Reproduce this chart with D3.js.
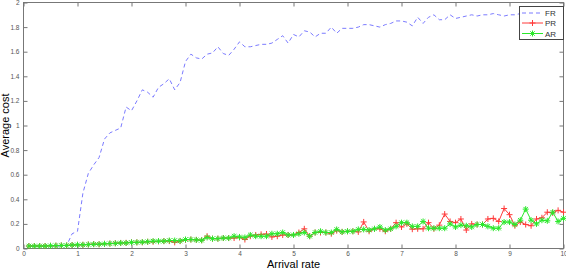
<!DOCTYPE html>
<html>
<head>
<meta charset="utf-8">
<script src="https://cdn.jsdelivr.net/npm/d3@7"></script>
<style>
  body { margin: 0; background: #fff; }
  svg { display: block; font-family: "Liberation Sans", Arial, sans-serif; }
</style>
</head>
<body>
<script>
// arrival rate (x) and the three cost series
const rates = [0.1,0.2,0.3,0.4,0.5,0.6,0.7,0.8,0.9,1.0,
  1.1,1.2,1.3,1.4,1.5,1.6,1.7,1.8,1.9,2.0,
  2.1,2.2,2.3,2.4,2.5,2.6,2.7,2.8,2.9,3.0,
  3.1,3.2,3.3,3.4,3.5,3.6,3.7,3.8,3.9,4.0,
  4.1,4.2,4.3,4.4,4.5,4.6,4.7,4.8,4.9,5.0,
  5.1,5.2,5.3,5.4,5.5,5.6,5.7,5.8,5.9,6.0,
  6.1,6.2,6.3,6.4,6.5,6.6,6.7,6.8,6.9,7.0,
  7.1,7.2,7.3,7.4,7.5,7.6,7.7,7.8,7.9,8.0,
  8.1,8.2,8.3,8.4,8.5,8.6,8.7,8.8,8.9,9.0,
  9.1,9.2,9.3,9.4,9.5,9.6,9.7,9.8,9.9,10.0];

const fr = [0.02,0.02,0.02,0.02,0.02,0.02,0.02,0.025,0.12,0.14,
  0.45,0.61,0.68,0.74,0.89,0.94,0.96,0.98,1.15,1.12,
  1.2,1.29,1.27,1.23,1.31,1.34,1.38,1.29,1.35,1.52,
  1.58,1.55,1.54,1.58,1.59,1.64,1.585,1.57,1.62,1.68,
  1.64,1.64,1.65,1.66,1.66,1.67,1.70,1.73,1.67,1.74,
  1.72,1.77,1.76,1.72,1.75,1.75,1.80,1.75,1.79,1.79,
  1.79,1.80,1.82,1.82,1.81,1.80,1.82,1.83,1.85,1.85,
  1.84,1.81,1.88,1.83,1.88,1.90,1.86,1.86,1.90,1.87,
  1.88,1.89,1.90,1.89,1.90,1.90,1.91,1.90,1.89,1.90,
  1.90,1.91,1.92,1.92,1.93,1.92,1.93,1.93,1.94,1.93];

const pr = [0.02,0.02,0.02,0.02,0.022,0.023,0.025,0.025,0.028,0.03,
  0.03,0.033,0.036,0.034,0.038,0.04,0.043,0.045,0.046,0.05,
  0.05,0.05,0.055,0.055,0.058,0.06,0.06,0.05,0.06,0.07,
  0.073,0.07,0.067,0.1,0.08,0.08,0.085,0.085,0.085,0.09,
  0.073,0.1,0.11,0.115,0.118,0.094,0.1,0.11,0.11,0.11,
  0.13,0.16,0.1,0.13,0.13,0.13,0.12,0.145,0.135,0.14,
  0.14,0.135,0.216,0.14,0.16,0.16,0.14,0.16,0.21,0.175,
  0.2,0.157,0.16,0.16,0.21,0.16,0.19,0.28,0.22,0.21,
  0.24,0.15,0.2,0.195,0.195,0.24,0.245,0.22,0.325,0.275,
  0.185,0.215,0.195,0.185,0.24,0.25,0.295,0.29,0.31,0.295];

const ar = [0.02,0.02,0.02,0.02,0.022,0.023,0.025,0.025,0.028,0.03,
  0.03,0.032,0.035,0.035,0.038,0.04,0.042,0.045,0.045,0.05,
  0.05,0.052,0.055,0.06,0.06,0.06,0.065,0.065,0.062,0.073,
  0.073,0.07,0.067,0.09,0.08,0.08,0.085,0.085,0.1,0.094,
  0.09,0.11,0.1,0.1,0.1,0.12,0.12,0.13,0.11,0.11,
  0.12,0.13,0.1,0.13,0.14,0.13,0.13,0.155,0.135,0.14,
  0.14,0.155,0.155,0.15,0.16,0.175,0.15,0.16,0.18,0.21,
  0.21,0.18,0.18,0.22,0.165,0.165,0.165,0.165,0.2,0.175,
  0.19,0.185,0.175,0.195,0.195,0.18,0.165,0.165,0.215,0.215,
  0.195,0.23,0.32,0.23,0.2,0.23,0.225,0.295,0.22,0.245];

const xTicks = [0,1,2,3,4,5,6,7,8,9,10];
const yTicks = [0,0.2,0.4,0.6,0.8,1,1.2,1.4,1.6,1.8,2];
const seriesNames = ["FR", "PR", "AR"];

const w = 566;
const h = 269;
const padL = 23.5, padR = 563.5, padT = 2.5, padB = 248.5;

const blue = "#7b7bff";
const red = "#ff3b3b";
const green = "#2be82b";

const xScale = d3.scaleLinear().domain([0, 10]).range([padL, padR]);
const yScale = d3.scaleLinear().domain([0, 2]).range([padB, padT]);

const svg = d3.select("body")
  .append("svg")
  .attr("width", w)
  .attr("height", h);

// axes, ticks pointing inward like matlab
const fmt = (d) => String(d);

svg.append("g")
  .attr("transform", "translate(0," + padB + ")")
  .call(d3.axisBottom(xScale).tickValues(xTicks).tickFormat(fmt).tickSizeInner(-4).tickSizeOuter(0).tickPadding(2.5));

svg.append("g")
  .attr("transform", "translate(0," + padT + ")")
  .call(d3.axisTop(xScale).tickValues(xTicks).tickFormat("").tickSizeInner(-4).tickSizeOuter(0));

svg.append("g")
  .attr("transform", "translate(" + padL + ",0)")
  .call(d3.axisLeft(yScale).tickValues(yTicks).tickFormat(fmt).tickSizeInner(-4).tickSizeOuter(0).tickPadding(4));

svg.append("g")
  .attr("transform", "translate(" + padR + ",0)")
  .call(d3.axisRight(yScale).tickValues(yTicks).tickFormat("").tickSizeInner(-4).tickSizeOuter(0));

svg.selectAll(".domain").remove();
svg.selectAll(".tick line").attr("stroke", "#777");
svg.selectAll(".tick text")
  .attr("fill", "#555")
  .attr("font-size", "6.5px")
  .attr("font-family", "Liberation Sans, Arial, sans-serif");

svg.append("rect")
  .attr("x", padL)
  .attr("y", padT)
  .attr("width", padR - padL)
  .attr("height", padB - padT)
  .attr("fill", "none")
  .attr("stroke", "#777");

// lines
const line = (vals) => d3.line()
  .x((d, i) => xScale(rates[i]))
  .y((d) => yScale(d))(vals);

svg.append("path")
  .attr("d", line(fr))
  .attr("fill", "none")
  .attr("stroke", blue)
  .attr("stroke-width", 1)
  .attr("stroke-dasharray", "4,3");

const plus = "M-3,0H3M0,-3V3";
const star = "M-3,0H3M0,-3V3M-2.2,-2.2L2.2,2.2M-2.2,2.2L2.2,-2.2";

function drawMarked(vals, color, shape) {
  svg.append("path")
    .attr("d", line(vals))
    .attr("fill", "none")
    .attr("stroke", color)
    .attr("stroke-width", 1);

  svg.append("g")
    .selectAll("path")
    .data(vals)
    .enter()
    .append("path")
    .attr("transform", (d, i) => "translate(" + xScale(rates[i]) + "," + yScale(d) + ")")
    .attr("d", shape)
    .attr("stroke", color)
    .attr("stroke-width", 1);
}

drawMarked(pr, red, plus);
drawMarked(ar, green, star);

// axis labels
svg.append("text")
  .attr("x", (padL + padR) / 2)
  .attr("y", 267.5)
  .attr("text-anchor", "middle")
  .attr("font-size", "11px")
  .text("Arrival rate");

svg.append("text")
  .attr("transform", "translate(9," + ((padT + padB) / 2) + ") rotate(-90)")
  .attr("text-anchor", "middle")
  .attr("font-size", "11px")
  .text("Average cost");

// legend
const legend = svg.append("g");

legend.append("rect")
  .attr("x", 519.5)
  .attr("y", 6.5)
  .attr("width", 44)
  .attr("height", 33)
  .attr("fill", "#fff")
  .attr("stroke", "#444");

const legY = [13, 23, 33.5];
const legColors = [blue, red, green];
const legShapes = [null, plus, star];

seriesNames.forEach((name, i) => {
  legend.append("line")
    .attr("x1", 522)
    .attr("x2", 543)
    .attr("y1", legY[i])
    .attr("y2", legY[i])
    .attr("stroke", legColors[i])
    .attr("stroke-width", 1)
    .attr("stroke-dasharray", i === 0 ? "4,3" : null);
  if (legShapes[i]) {
    legend.append("path")
      .attr("transform", "translate(532.5," + legY[i] + ")")
      .attr("d", legShapes[i])
      .attr("stroke", legColors[i]);
  }
  legend.append("text")
    .attr("x", 545)
    .attr("y", legY[i] + 3)
    .attr("font-size", "8px")
    .attr("fill", "#333")
    .text(name);
});
</script>
</body>
</html>
